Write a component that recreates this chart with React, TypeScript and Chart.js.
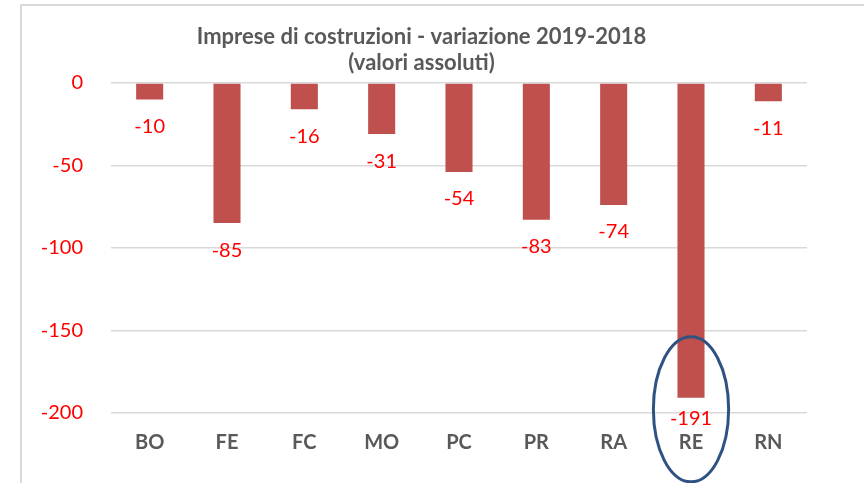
import React, { useEffect, useRef } from "react";
import { Chart, registerables } from "chart.js";

Chart.register(...registerables);

const titleLines = ["Imprese di costruzioni - variazione 2019-2018", "(valori assoluti)"];
const categories = ["BO", "FE", "FC", "MO", "PC", "PR", "RA", "RE", "RN"];
const values = [-10, -85, -16, -31, -54, -83, -74, -191, -11];
const yTicks = [0, -50, -100, -150, -200];
const highlightCategory = "RE";
const highlightCenterValue = -198;
const highlightTopValue = -154;

const FONT = "Lato, 'Open Sans', sans-serif";

const labelsPlugin = {
  id: "valueLabels",
  afterDatasetsDraw(chart: any) {
    const { ctx, chartArea } = chart;
    const meta = chart.getDatasetMeta(0);
    ctx.save();
    ctx.font = `20px ${FONT}`;
    ctx.fillStyle = "#ff0000";
    ctx.textAlign = "center";
    ctx.textBaseline = "middle";
    meta.data.forEach((bar: any, i: number) => {
      const y = Math.min(bar.y + 27, chartArea.bottom + 5.5);
      ctx.fillText(String(values[i]), bar.x, y);
    });
    ctx.restore();
  },
};

const ellipsePlugin = {
  id: "highlightEllipse",
  afterDraw(chart: any) {
    const idx = categories.indexOf(highlightCategory);
    if (idx < 0) return;
    const { ctx } = chart;
    const bar: any = chart.getDatasetMeta(0).data[idx];
    const yScale = chart.scales.y;
    const cy = yScale.getPixelForValue(highlightCenterValue);
    const ry = Math.abs(cy - yScale.getPixelForValue(highlightTopValue));
    const rx = bar.width * 1.39;
    ctx.save();
    ctx.strokeStyle = "#2f5283";
    ctx.lineWidth = 3;
    ctx.beginPath();
    ctx.ellipse(bar.x, cy, rx, ry, 0, 0, Math.PI * 2);
    ctx.stroke();
    ctx.restore();
  },
};

export default function App() {
  const ref = useRef<HTMLCanvasElement | null>(null);
  useEffect(() => {
    if (!ref.current) return;
    const chart = new Chart(ref.current, {
      type: "bar",
      data: {
        labels: categories,
        datasets: [
          {
            data: values,
            backgroundColor: "#c0504d",
            borderWidth: 0,
            barPercentage: 0.35,
            categoryPercentage: 1,
          },
        ],
      },
      options: {
        animation: false,
        responsive: false,
        maintainAspectRatio: false,
        layout: { padding: { left: 14, right: 57, top: 0, bottom: 0 } },
        plugins: {
          legend: { display: false },
          tooltip: { enabled: false },
          title: {
            display: true,
            text: titleLines,
            color: "#595959",
            font: { family: FONT, size: 22, weight: "bold", lineHeight: 26 / 22 },
            padding: { top: 18, bottom: 7 },
          },
        },
        scales: {
          x: {
            grid: { display: false, drawTicks: false },
            border: { display: false },
            ticks: {
              color: "#595959",
              font: { family: FONT, size: 20, weight: "bold" },
              padding: 18,
              maxRotation: 0,
            },
            afterFit(scale: any) {
              scale.height = 70.4;
            },
          },
          y: {
            min: -200,
            max: 0,
            afterBuildTicks(scale: any) {
              scale.ticks = yTicks.map((v) => ({ value: v }));
            },
            grid: { color: "#d9d9d9", lineWidth: 1.4, drawTicks: false },
            border: { display: false },
            ticks: {
              color: "#ff0000",
              font: { family: FONT, size: 20 },
              padding: 28,
            },
            afterFit(scale: any) {
              scale.width = 75;
            },
          },
        },
      },
      plugins: [labelsPlugin, ellipsePlugin],
    });
    return () => chart.destroy();
  }, []);

  return (
    <div
      style={{
        position: "absolute",
        left: 20,
        top: 4,
        width: 842,
        height: 477,
        borderLeft: "2px solid #d9d9d9",
        borderTop: "2px solid #d9d9d9",
        overflow: "hidden",
        background: "#fff",
      }}
    >
      <canvas ref={ref} width={842} height={477} style={{ display: "block" }} />
    </div>
  );
}
